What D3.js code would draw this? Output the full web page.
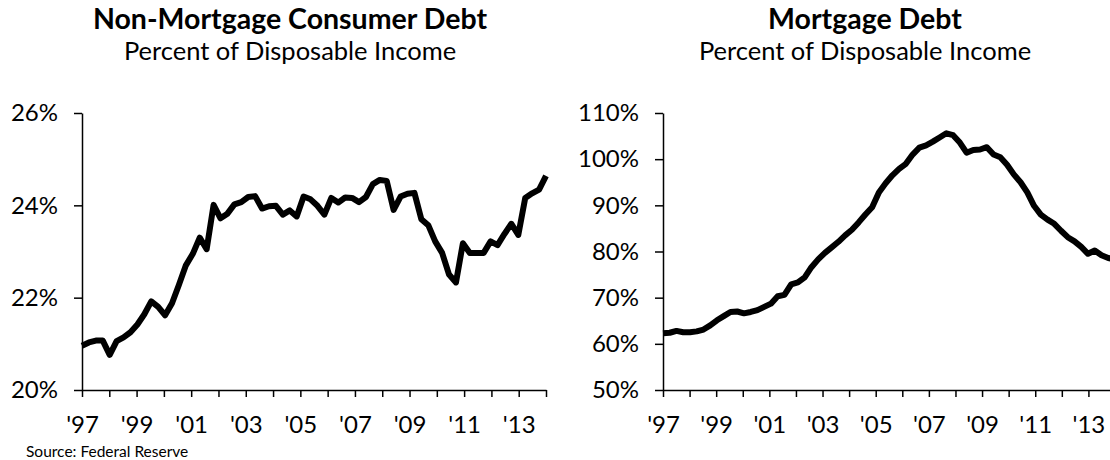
<!DOCTYPE html>
<html>
<head>
<meta charset="utf-8">
<script src="https://cdn.jsdelivr.net/npm/d3@7"></script>
<style>
  body { margin: 0; background: #fff; }
  svg { display: block; font-family: Lato, "Open Sans", sans-serif; }
</style>
</head>
<body>
<div id="chart"></div>
<script>
// quarterly, 1997 Q1 .. 2013 Q4
const consumerDebt = [
  20.96, 21.03, 21.07, 21.07, 20.76, 21.06, 21.14, 21.25, 21.42, 21.64,
  21.92, 21.80, 21.62, 21.88, 22.28, 22.70, 22.95, 23.30, 23.05, 24.01,
  23.72, 23.82, 24.02, 24.07, 24.18, 24.20, 23.93, 23.98, 23.99, 23.80,
  23.89, 23.76, 24.19, 24.13, 23.99, 23.80, 24.16, 24.06, 24.17, 24.16,
  24.07, 24.18, 24.46, 24.55, 24.53, 23.90, 24.19, 24.25, 24.27, 23.70,
  23.57, 23.22, 22.97, 22.50, 22.33, 23.18, 22.97, 22.97, 22.97, 23.22,
  23.14, 23.38, 23.60, 23.36, 24.16, 24.26, 24.34, 24.64
];

const mortgageDebt = [
  62.3, 62.4, 62.8, 62.5, 62.5, 62.7, 63.1, 64.0, 65.1, 66.0,
  66.9, 67.0, 66.6, 66.9, 67.3, 68.0, 68.7, 70.3, 70.6, 72.9,
  73.3, 74.4, 76.6, 78.3, 79.7, 80.9, 82.1, 83.5, 84.7, 86.3,
  88.0, 89.6, 92.8, 94.8, 96.5, 97.9, 99.0, 101.0, 102.5, 103.0,
  103.8, 104.7, 105.6, 105.2, 103.6, 101.4, 102.0, 102.1, 102.6, 101.0,
  100.4, 98.8, 96.7, 95.0, 92.8, 89.9, 88.0, 86.9, 86.0, 84.5,
  83.1, 82.2, 81.0, 79.5, 80.2, 79.2, 78.6, 78.3
];

const years = d3.range(1997, 2015);
const consumerTicks = [20, 22, 24, 26];
const mortgageTicks = [50, 60, 70, 80, 90, 100, 110];

const width = 1110;
const height = 460;

const svg = d3.select("#chart").append("svg")
    .attr("width", width)
    .attr("height", height);

function drawPanel(opts) {
  const x = d3.scaleLinear().domain([1997, 2014]).range(opts.xRange);
  const y = d3.scaleLinear().domain(opts.yDomain).range([390, 113]);
  const t = i => 1997 + i * 17 / (opts.values.length - 1);

  const g = svg.append("g");

  g.append("text")
      .attr("x", opts.cx)
      .attr("y", 29)
      .attr("text-anchor", "middle")
      .attr("font-size", 28.5)
      .attr("font-weight", "bold")
      .text(opts.title);

  g.append("text")
      .attr("x", opts.cx)
      .attr("y", 60)
      .attr("text-anchor", "middle")
      .attr("font-size", 25.5)
      .text("Percent of Disposable Income");

  const line = d3.line()
      .x((d, i) => x(t(i)))
      .y(d => y(d));

  g.append("path")
      .datum(opts.values)
      .attr("fill", "none")
      .attr("stroke", "#000")
      .attr("stroke-width", 6)
      .attr("stroke-linejoin", "round")
      .attr("d", line);

  const yAxis = g.append("g")
      .attr("transform", `translate(${opts.xRange[0]},0)`)
      .call(d3.axisLeft(y)
        .tickValues(opts.yTicks)
        .tickSize(8)
        .tickSizeOuter(0)
        .tickPadding(16)
        .tickFormat(d => d + "%"));

  const xAxis = g.append("g")
      .attr("transform", "translate(0,390)")
      .call(d3.axisBottom(x)
        .tickValues(years)
        .tickSize(7)
        .tickSizeOuter(0)
        .tickPadding(19)
        .tickFormat(d => d % 2 === 1 ? "'" + String(d).slice(2) : ""));

  [yAxis, xAxis].forEach(a => {
    a.selectAll("path, line").attr("stroke", "#000").attr("stroke-width", 1.5);
    a.selectAll("text")
        .attr("fill", "#000")
        .style("font-family", "Lato, 'Open Sans', sans-serif")
        .style("font-size", "24px");
  });
}

drawPanel({
  title: "Non-Mortgage Consumer Debt",
  cx: 290,
  xRange: [82, 546],
  yDomain: [20, 26],
  yTicks: consumerTicks,
  values: consumerDebt
});

drawPanel({
  title: "Mortgage Debt",
  cx: 865,
  xRange: [663, 1115],
  yDomain: [50, 110],
  yTicks: mortgageTicks,
  values: mortgageDebt
});

svg.append("text")
    .attr("x", 26)
    .attr("y", 457)
    .attr("font-size", 15.5)
    .text("Source: Federal Reserve");
</script>
</body>
</html>
